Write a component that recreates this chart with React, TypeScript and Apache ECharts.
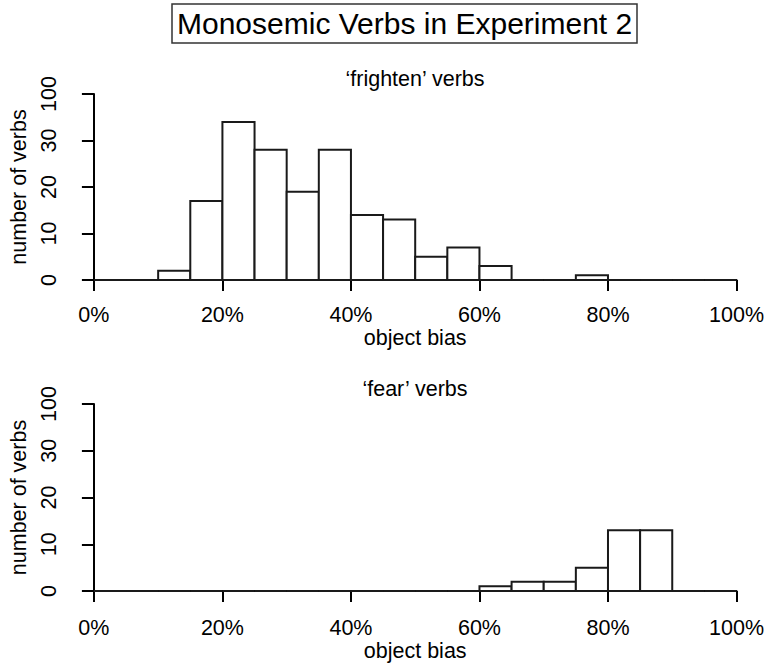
import React, { useEffect, useRef } from "react";
import * as echarts from "echarts";

const binStarts = [0, 5, 10, 15, 20, 25, 30, 35, 40, 45, 50, 55, 60, 65, 70, 75, 80, 85, 90, 95];
const binWidth = 5;
const frightenCounts = [0, 0, 2, 17, 34, 28, 19, 28, 14, 13, 5, 7, 3, 0, 0, 1, 0, 0, 0, 0];
const fearCounts = [0, 0, 0, 0, 0, 0, 0, 0, 0, 0, 0, 0, 1, 2, 2, 5, 13, 13, 0, 0];
const yTickValues = [0, 10, 20, 30, 40];
const yTickLabels = ["0", "10", "20", "30", "100"];
const mainTitle = "Monosemic Verbs in Experiment 2";
const panelTitles = ["\u2018frighten\u2019 verbs", "\u2018fear\u2019 verbs"];
const xName = "object bias";
const yName = "number of verbs";

const FONT = "Liberation Sans, Arial, Helvetica, sans-serif";
const FS = 21.5;

export default function App() {
  const ref = useRef<HTMLDivElement>(null);
  useEffect(() => {
    if (!ref.current) return;
    const chart = echarts.init(ref.current, undefined, { renderer: "svg" });
    const mkData = (counts: number[]) =>
      binStarts.map((s, i) => [s, s + binWidth, counts[i]]);
    const renderItem = (params: any, api: any) => {
      const x0 = api.value(0);
      const x1 = api.value(1);
      const y = api.value(2);
      const p0 = api.coord([x0, y]);
      const p1 = api.coord([x1, 0]);
      if (y === 0) {
        return {
          type: "line",
          shape: { x1: p0[0], y1: p1[1], x2: p1[0], y2: p1[1] },
          style: { stroke: "#1a1a1a", lineWidth: 2 },
        };
      }
      return {
        type: "rect",
        shape: { x: p0[0], y: p0[1], width: p1[0] - p0[0], height: p1[1] - p0[1] },
        style: { fill: "#fff", stroke: "#1a1a1a", lineWidth: 2 },
      };
    };
    const grids = [
      { left: 91, width: 649, top: 94, height: 186 },
      { left: 91, width: 649, top: 404, height: 187 },
    ];
    const xOffsets = [6, 8];
    const xAxes = grids.map((g, i) => ({
      type: "value",
      gridIndex: i,
      min: 0,
      max: 100,
      interval: 20,
      offset: xOffsets[i],
      name: xName,
      nameLocation: "middle",
      nameGap: 41,
      nameTextStyle: { fontFamily: FONT, fontSize: FS, color: "#000" },
      axisLine: { show: true, lineStyle: { color: "#000", width: 2 } },
      axisTick: { show: true, length: 11, lineStyle: { color: "#000", width: 2 } },
      axisLabel: {
        fontFamily: FONT,
        fontSize: FS,
        color: "#000",
        margin: 18,
        formatter: (v: number) => v + "%",
      },
      splitLine: { show: false },
    }));
    const yAxes = grids.map((g, i) => ({
      type: "value",
      gridIndex: i,
      min: 0,
      max: 40,
      interval: 10,
      offset: 19,
      name: yName,
      nameLocation: "middle",
      nameGap: 43,
      nameRotate: 90,
      nameTextStyle: { fontFamily: FONT, fontSize: FS, color: "#000" },
      axisLine: { show: true, lineStyle: { color: "#000", width: 2 } },
      axisTick: { show: true, length: 12, lineStyle: { color: "#000", width: 2 } },
      axisLabel: {
        fontFamily: FONT,
        fontSize: FS,
        color: "#000",
        rotate: 90,
        margin: 15,
        formatter: (v: number) => {
          const idx = yTickValues.indexOf(v);
          return idx >= 0 ? yTickLabels[idx] : "";
        },
      },
      splitLine: { show: false },
    }));
    chart.setOption({
      animation: false,
      backgroundColor: "#fff",
      title: {
        text: mainTitle,
        left: 172,
        top: 4,
        padding: [3, 5],
        borderWidth: 1.5,
        borderColor: "#333",
        textStyle: { fontFamily: FONT, fontSize: 30, fontWeight: "normal", color: "#000", lineHeight: 33 },
      },
      graphic: [
        {
          type: "text",
          x: 415,
          y: 79,
          style: { text: panelTitles[0], font: `${FS}px ${FONT}`, fill: "#000", align: "center", verticalAlign: "middle" },
        },
        {
          type: "text",
          x: 415,
          y: 389,
          style: { text: panelTitles[1], font: `${FS}px ${FONT}`, fill: "#000", align: "center", verticalAlign: "middle" },
        },
      ],
      grid: grids,
      xAxis: xAxes,
      yAxis: yAxes,
      series: [
        {
          type: "custom",
          xAxisIndex: 0,
          yAxisIndex: 0,
          renderItem,
          encode: { x: [0, 1], y: 2 },
          data: mkData(frightenCounts),
        },
        {
          type: "custom",
          xAxisIndex: 1,
          yAxisIndex: 1,
          renderItem,
          encode: { x: [0, 1], y: 2 },
          data: mkData(fearCounts),
        },
      ],
    });
    return () => chart.dispose();
  }, []);
  return <div ref={ref} style={{ width: 767, height: 666, position: "absolute", left: 0, top: 0 }} />;
}
